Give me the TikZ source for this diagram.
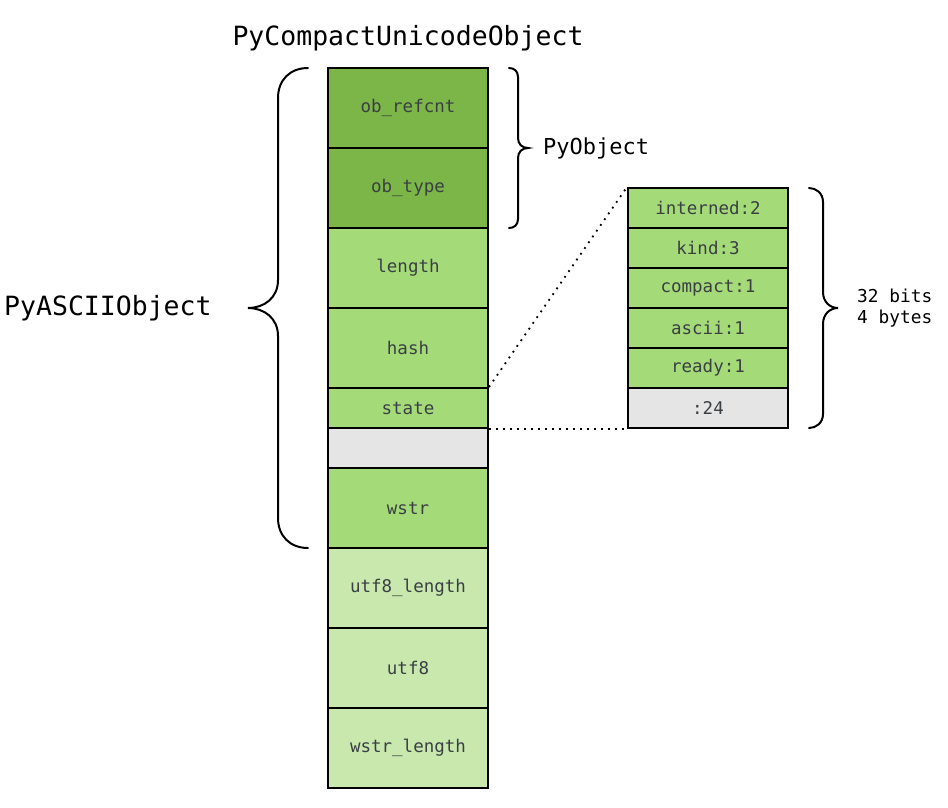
\documentclass[tikz,border=0pt]{standalone}
\usepackage{fontspec}
\setmonofont{DejaVu Sans Mono}
\definecolor{gdark}{HTML}{7CB548}
\definecolor{gmid}{HTML}{A5DA78}
\definecolor{glight}{HTML}{C8E8AD}
\definecolor{gpad}{HTML}{E5E5E5}
\definecolor{celltext}{HTML}{3A3F44}
\begin{document}
\begin{tikzpicture}[x=1pt,y=-1pt,
  cell/.style={draw=black,line width=2pt,minimum width=160pt,anchor=north west,inner sep=0pt,
    text=celltext,font=\ttfamily\fontsize{17.5}{20}\selectfont},
  tall/.style={cell,minimum height=80pt},
  short/.style={cell,minimum height=40pt},
  bracepath/.style={draw=black,line width=2pt,line cap=round},
  zoomline/.style={draw=black,line width=1.8pt,dash pattern=on 1.8pt off 5.2pt},
  label/.style={font=\ttfamily\fontsize{26.5}{30}\selectfont,text=black,inner sep=0pt},
  smalllabel/.style={font=\ttfamily\fontsize{22}{26}\selectfont,text=black,inner sep=0pt},
  note/.style={font=\ttfamily\fontsize{17.8}{21}\selectfont,text=black,inner sep=0pt,align=left}]
\useasboundingbox (0,0) rectangle (948,807);

% main structure column
\node[tall,fill=gdark]   (refcnt)  at (327,67)  {ob\_refcnt};
\node[tall,fill=gdark]   (type)    at (327,147) {ob\_type};
\node[tall,fill=gmid]    (length)  at (327,227) {length};
\node[tall,fill=gmid]    (hash)    at (327,307) {hash};
\node[short,fill=gmid]   (state)   at (327,387) {state};
\node[short,fill=gpad]   (pad)     at (327,427) {};
\node[tall,fill=gmid]    (wstr)    at (327,467) {wstr};
\node[tall,fill=glight]  (u8len)   at (327,547) {utf8\_length};
\node[tall,fill=glight]  (u8)      at (327,627) {utf8};
\node[tall,fill=glight]  (wlen)    at (327,707) {wstr\_length};

% bit fields of the state word
\node[short,fill=gmid]   (interned) at (627,187) {interned:2};
\node[short,fill=gmid]   (kind)     at (627,227) {kind:3};
\node[short,fill=gmid]   (compact)  at (627,267) {compact:1};
\node[short,fill=gmid]   (ascii)    at (627,307) {ascii:1};
\node[short,fill=gmid]   (ready)    at (627,347) {ready:1};
\node[short,fill=gpad]   (rest)     at (627,387) {:24};

% zoom lines from state to its bit fields
\draw[zoomline] (state.north east) -- (interned.north west);
\draw[zoomline] (state.south east) -- (rest.south west);

% titles
\node[label] (compactobj) at (408,38) {PyCompactUnicodeObject};
\node[label,anchor=west] (asciiobj) at (4,308) {PyASCIIObject};
\node[smalllabel,anchor=west] (pyobj) at (543,148) {PyObject};
\node[note,anchor=west] (bits) at (857,308) {32 bits\\4 bytes};

% left brace around the PyASCIIObject fields
\draw[bracepath] (308,68) .. controls (290,68) and (278,80) .. (278,98)
  -- (278,280) .. controls (278,298) and (264,308) .. (248,308)
  .. controls (264,308) and (278,318) .. (278,336)
  -- (278,518) .. controls (278,536) and (290,548) .. (308,548);

% brace around the PyObject header
\draw[bracepath] (509,68) .. controls (514,68) and (518,71) .. (518,77)
  -- (518,138) .. controls (518,144) and (522,148) .. (528,148)
  .. controls (522,148) and (518,152) .. (518,158)
  -- (518,219) .. controls (518,225) and (514,228) .. (509,228);

% brace around the bit fields
\draw[bracepath] (809,188) .. controls (816,188) and (823,193) .. (823,202)
  -- (823,292) .. controls (823,302) and (830,308) .. (838,308)
  .. controls (830,308) and (823,314) .. (823,324)
  -- (823,414) .. controls (823,423) and (816,428) .. (809,428);
\end{tikzpicture}
\end{document}
